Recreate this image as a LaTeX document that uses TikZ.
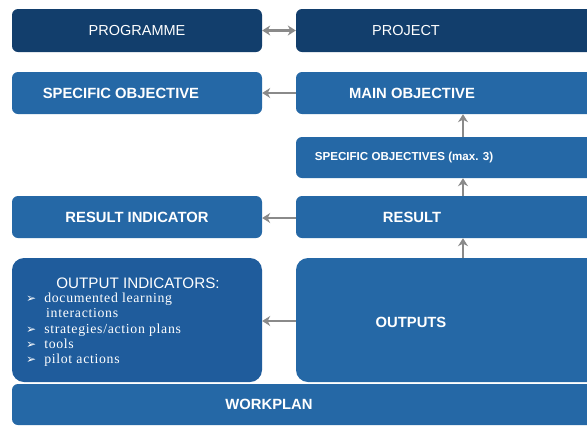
\documentclass[tikz,border=0pt]{standalone}
\usepackage{fontspec}
\setmainfont{Liberation Sans}
\newfontfamily\listfont[LetterSpace=5]{Liberation Serif}
\newfontfamily\symfont{DejaVu Sans}
\usetikzlibrary{arrows.meta}
\definecolor{navy}{HTML}{123E6C}
\definecolor{midblue}{HTML}{2568A6}
\definecolor{outblue}{HTML}{1F5C9C}
\definecolor{arrgray}{HTML}{8A8A8A}
\tikzset{
  box/.style={draw=none, rounded corners=6pt, inner sep=0pt},
  lbl/.style={text=white, font=\bfseries\fontsize{14.8}{16}\selectfont, inner sep=0pt},
  toplbl/.style={text=white, font=\fontsize{14.5}{16}\selectfont, inner sep=0pt},
  arr/.style={draw=arrgray, line width=2.6pt, -{Stealth[length=8pt,width=10pt]}},
  darr/.style={draw=arrgray, line width=2.6pt, {Stealth[length=8pt,width=10pt]}-{Stealth[length=8pt,width=10pt]}},
}
\newcommand{\mymark}{{\symfont\fontsize{12}{12}\selectfont ➢}\hspace{8pt}}
\begin{document}
\begin{tikzpicture}[x=1pt,y=-1pt]
\useasboundingbox (0,0) rectangle (587,432);
\fill[white] (0,0) rectangle (587,432);
\clip (0,0) rectangle (587,432);
% boxes
\fill[navy, rounded corners=6pt] (12,9) rectangle (262,52);
\node[box, minimum width=250pt, minimum height=43pt] (prog) at (137,30.5) {};
\fill[navy, rounded corners=6pt] (296,9) rectangle (600,52);
\node[box, minimum width=304pt, minimum height=43pt] (proj) at (448,30.5) {};
\fill[midblue, rounded corners=6pt] (12,72) rectangle (262,114);
\node[box, minimum width=250pt, minimum height=42pt] (specobj) at (137,93) {};
\fill[midblue, rounded corners=6pt] (296,72) rectangle (600,114);
\node[box, minimum width=304pt, minimum height=42pt] (mainobj) at (448,93) {};
\fill[midblue, rounded corners=6pt] (296,137) rectangle (600,178);
\node[box, minimum width=304pt, minimum height=41pt] (specs) at (448,157.5) {};
\fill[midblue, rounded corners=6pt] (12,196) rectangle (262,238);
\node[box, minimum width=250pt, minimum height=42pt] (resind) at (137,217) {};
\fill[midblue, rounded corners=6pt] (296,196) rectangle (600,238);
\node[box, minimum width=304pt, minimum height=42pt] (result) at (448,217) {};
\fill[outblue, rounded corners=12pt] (12,258) rectangle (262,382);
\node[box, minimum width=250pt, minimum height=124pt] (outind) at (137,320) {};
\fill[midblue, rounded corners=12pt] (296,258) rectangle (600,382);
\node[box, minimum width=304pt, minimum height=124pt] (outputs) at (448,320) {};
\fill[midblue, rounded corners=6pt] (12,384) rectangle (600,425);
\node[box, minimum width=588pt, minimum height=41pt] (workplan) at (306,404.5) {};
% labels
\node[toplbl] (tprog) at (137,30.5) {PROGRAMME};
\node[toplbl] (tproj) at (406,30.5) {PROJECT};
\node[lbl] (tspecobj) at (121,93) {SPECIFIC OBJECTIVE};
\node[lbl] (tmainobj) at (412,93) {MAIN OBJECTIVE};
\node[lbl, font=\bfseries\fontsize{11.6}{13}\selectfont] (tspecs) at (404,157.5) {SPECIFIC OBJECTIVES (max. 3)};
\node[lbl] (tresind) at (137,217) {RESULT INDICATOR};
\node[lbl] (tresult) at (412,217) {RESULT};
\node[lbl] (toutputs) at (411,322) {OUTPUTS};
\node[lbl] (tworkplan) at (269,404.5) {WORKPLAN};
\node[toplbl, font=\fontsize{15.2}{16}\selectfont] (toutind) at (138,283) {OUTPUT INDICATORS:};
\node[text=white, anchor=north west, inner sep=0pt, align=left,
      font=\listfont\fontsize{13.8}{15.2}\selectfont] (list) at (26,293)
 {\mymark documented learning\\
  \hspace{20pt}interactions\\
  \mymark strategies/action plans\\
  \mymark tools\\
  \mymark pilot actions};
% arrow anchor coordinates
\coordinate (vx) at (463,0);
% connectors
\draw[darr] (prog.east) -- (proj.west);
\draw[arr] (mainobj.west) -- (specobj.east);
\draw[arr] (result.west |- 0,218) -- (resind.east |- 0,218);
\draw[arr] (outputs.west |- 0,321) -- (outind.east |- 0,321);
\draw[arr] (specs.north -| vx) -- (mainobj.south -| vx);
\draw[arr] (result.north -| vx) -- (specs.south -| vx);
\draw[arr] (outputs.north -| vx) -- (result.south -| vx);
\end{tikzpicture}
\end{document}
